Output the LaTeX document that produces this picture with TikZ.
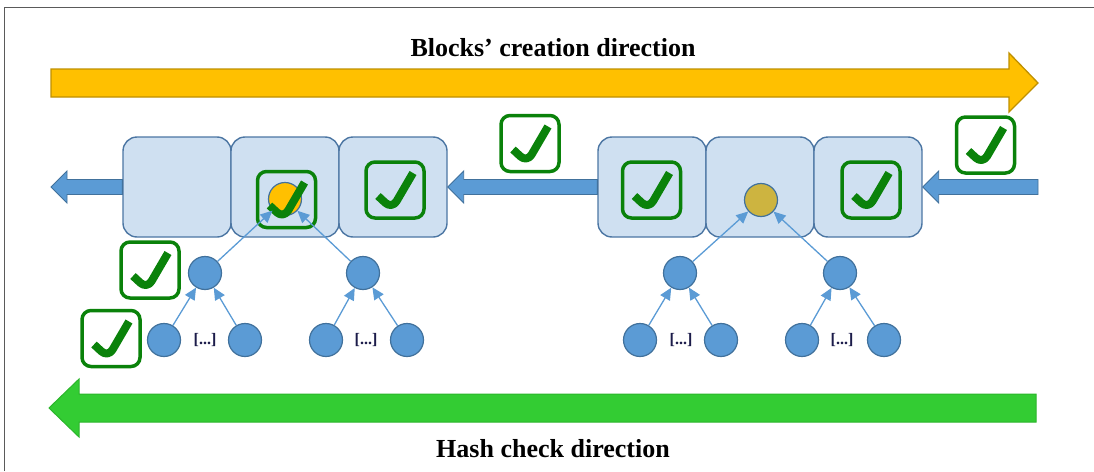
\documentclass[tikz,border=0pt]{standalone}
\usepackage{fontspec}
\setmainfont{Liberation Serif}
\usetikzlibrary{arrows.meta,calc}

\definecolor{blockfill}{HTML}{CFE0F1}
\definecolor{blockedge}{HTML}{4C76A3}
\definecolor{nodeblue}{HTML}{5B9BD5}
\definecolor{nodeedge}{HTML}{41719C}
\definecolor{rootyellow}{HTML}{FFC000}
\definecolor{rootgold}{HTML}{CDB440}
\definecolor{checkgreen}{HTML}{0A820A}
\definecolor{creationfill}{HTML}{FFC000}
\definecolor{creationedge}{HTML}{BF9000}
\definecolor{hashfill}{HTML}{33CC33}
\definecolor{hashedge}{HTML}{2BB52B}
\definecolor{framegray}{HTML}{5A5A5A}
\definecolor{dotsink}{HTML}{1C1C4A}

\begin{document}
\begin{tikzpicture}[x=1pt,y=-1pt,
  chainblock/.style={draw=blockedge, fill=blockfill, line width=1.4pt,
    rounded corners=14pt, minimum width=108pt, minimum height=100pt, inner sep=0pt},
  chainarrow/.style={draw=nodeedge, fill=nodeblue, line width=0.9pt, line join=miter},
  treenode/.style={circle, draw=nodeedge, fill=nodeblue, line width=1.2pt,
    minimum size=33pt, inner sep=0pt},
  rootnode/.style={treenode, fill=#1},
  treeedge/.style={draw=nodeblue, line width=1.3pt,
    -{Triangle[length=12pt,width=11pt]}},
  chkbox/.style={draw=checkgreen, line width=3.5pt, rounded corners=9pt,
    minimum width=58pt, minimum height=56pt, inner sep=0pt,
    path picture={
      \draw[checkgreen, line width=8pt, line join=round, line cap=butt]
        ([shift={(-17,6)}]path picture bounding box.center)
        -- ++(14,13) -- ++(21,-36);
    }},
  dots/.style={font=\bfseries\fontsize{16}{18}\selectfont, text=dotsink, inner sep=0pt},
  heading/.style={font=\bfseries\fontsize{26}{30}\selectfont, inner sep=0pt, anchor=base}
]
\useasboundingbox (0,0) rectangle (1094,471);

% frame lines
\draw[framegray, line width=1pt] (4,471) -- (4,7.5) -- (1094,7.5);

% creation direction arrow
\node[heading] (creationlabel) at (553,56) {Blocks’ creation direction};
\draw[draw=creationedge, fill=creationfill, line width=1.3pt, line join=miter]
  (51,69) -- (1009,69) -- (1009,53) -- (1038,83) -- (1009,112) -- (1009,97) -- (51,97) -- cycle;

% hash check direction arrow
\draw[draw=hashedge, fill=hashfill, line width=1pt, line join=miter]
  (1036,394) -- (79,394) -- (79,379) -- (49,408) -- (79,437) -- (79,422) -- (1036,422) -- cycle;
\node[heading] (hashlabel) at (553,457) {Hash check direction};

% blocks of the two chains
\node[chainblock] (b1) at (177,187) {};
\node[chainblock] (b2) at (285,187) {};
\node[chainblock] (b3) at (393,187) {};
\node[chainblock] (b4) at (652,187) {};
\node[chainblock] (b5) at (760,187) {};
\node[chainblock] (b6) at (868,187) {};

\coordinate (ltip) at (51,187);
\coordinate (rtail) at (1038,187);

% links between chains
\draw[chainarrow] ($(b1.west)+(0,-7.5)$) -- ($(ltip)+(16,-7.5)$) -- ($(ltip)+(16,-16)$)
  -- (ltip) -- ($(ltip)+(16,16)$) -- ($(ltip)+(16,7.5)$) -- ($(b1.west)+(0,7.5)$) -- cycle;
\draw[chainarrow] ($(b4.west)+(0,-7.5)$) -- ($(b3.east)+(16,-7.5)$) -- ($(b3.east)+(16,-16)$)
  -- (b3.east) -- ($(b3.east)+(16,16)$) -- ($(b3.east)+(16,7.5)$) -- ($(b4.west)+(0,7.5)$) -- cycle;
\draw[chainarrow] ($(rtail)+(0,-7.5)$) -- ($(b6.east)+(16,-7.5)$) -- ($(b6.east)+(16,-16)$)
  -- (b6.east) -- ($(b6.east)+(16,16)$) -- ($(b6.east)+(16,7.5)$) -- ($(rtail)+(0,7.5)$) -- cycle;

% Merkle roots
\node[rootnode=rootyellow] (rootL) at (285,199) {};
\node[rootnode=rootgold] (rootR) at (761,200) {};

% check marks
\node[chkbox] (c1) at (286.5,199.5) {};
\node[chkbox] (c2) at (395,190) {};
\node[chkbox] (c3) at (530,143.5) {};
\node[chkbox] (c4) at (651.5,190) {};
\node[chkbox] (c5) at (871,190) {};
\node[chkbox] (c6) at (985.5,145) {};
\node[chkbox] (c7) at (150,270) {};
\node[chkbox] (c8) at (111,338.5) {};

% left Merkle tree
\node[treenode] (la) at (205,273) {};
\node[treenode] (lb) at (363,273) {};
\node[treenode] (la1) at (164,340) {};
\node[treenode] (la2) at (245,340) {};
\node[treenode] (lb1) at (326,340) {};
\node[treenode] (lb2) at (407,340) {};
\node[dots] (ldotsa) at (205,340) {[...]};
\node[dots] (ldotsb) at (366,340) {[...]};

% right Merkle tree
\node[treenode] (ra) at (680,273) {};
\node[treenode] (rb) at (840,273) {};
\node[treenode] (ra1) at (640,340) {};
\node[treenode] (ra2) at (721,340) {};
\node[treenode] (rb1) at (802,340) {};
\node[treenode] (rb2) at (884,340) {};
\node[dots] (rdotsa) at (681,340) {[...]};
\node[dots] (rdotsb) at (842,340) {[...]};

% hash links inside the trees
\draw[treeedge] (la) -- (rootL);
\draw[treeedge] (lb) -- (rootL);
\draw[treeedge] (la1) -- (la);
\draw[treeedge] (la2) -- (la);
\draw[treeedge] (lb1) -- (lb);
\draw[treeedge] (lb2) -- (lb);
\draw[treeedge] (ra) -- (rootR);
\draw[treeedge] (rb) -- (rootR);
\draw[treeedge] (ra1) -- (ra);
\draw[treeedge] (ra2) -- (ra);
\draw[treeedge] (rb1) -- (rb);
\draw[treeedge] (rb2) -- (rb);
\end{tikzpicture}
\end{document}
